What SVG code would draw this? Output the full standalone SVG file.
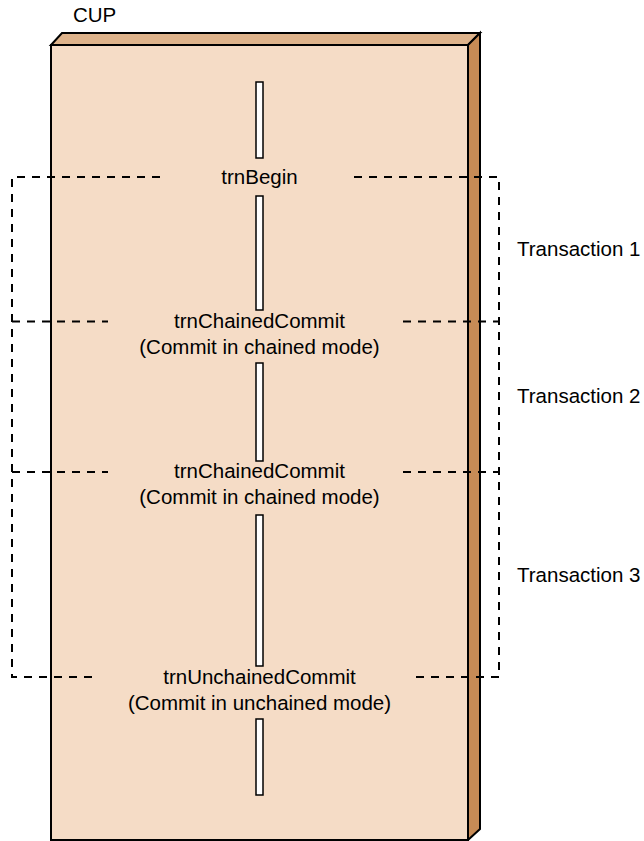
<svg xmlns="http://www.w3.org/2000/svg" width="644" height="841" viewBox="0 0 644 841">
  <style>
    .lbl { font-family: "Liberation Sans", Arial, sans-serif; font-size: 20.5px; fill: #000; }
    .mid { text-anchor: middle; }
    .edge { fill: none; stroke: #000; stroke-width: 2; stroke-dasharray: 8 7; }
    .bar { fill: #fff; stroke: #000; stroke-width: 1.5; }
    .face { stroke: #000; stroke-width: 2; stroke-linejoin: miter; }
  </style>
  <rect width="644" height="841" fill="#fff"/>

  <!-- CUP process block drawn as a 3D slab -->
  <g id="cup">
    <polygon class="face" points="51,45 62,33 480,33 468,45" fill="#DEB38B"/>
    <polygon class="face" points="468,45 480,33 480,829 468,840" fill="#C78B56"/>
    <rect class="face" x="51" y="45" width="417" height="795" fill="#F5DCC6"/>
    <text class="lbl" x="73" y="22">CUP</text>
  </g>

  <!-- processing timeline segments -->
  <g id="timeline">
    <rect class="bar" x="256" y="82" width="7" height="76"/>
    <rect class="bar" x="256" y="196" width="7" height="114"/>
    <rect class="bar" x="256" y="363" width="7" height="98"/>
    <rect class="bar" x="256" y="515" width="7" height="151"/>
    <rect class="bar" x="256" y="719" width="7" height="76"/>
  </g>

  <!-- transaction boundaries -->
  <g id="connectors">
    <path class="edge" d="M160,177 H12 V677 H98"/>
    <path class="edge" d="M354,177 H499 V677 H411"/>
    <path class="edge" d="M12,321.5 H108"/>
    <path class="edge" d="M403,321.5 H499"/>
    <path class="edge" d="M12,472 H108"/>
    <path class="edge" d="M403,472 H499"/>
  </g>

  <g id="trnBegin">
    <text class="lbl mid" x="259.5" y="184">trnBegin</text>
  </g>
  <g id="trnChainedCommit1">
    <text class="lbl mid" x="259.5" y="328">trnChainedCommit</text>
    <text class="lbl mid" x="259.5" y="354">(Commit in chained mode)</text>
  </g>
  <g id="trnChainedCommit2">
    <text class="lbl mid" x="259.5" y="478">trnChainedCommit</text>
    <text class="lbl mid" x="259.5" y="504">(Commit in chained mode)</text>
  </g>
  <g id="trnUnchainedCommit">
    <text class="lbl mid" x="259.5" y="684">trnUnchainedCommit</text>
    <text class="lbl mid" x="259.5" y="710">(Commit in unchained mode)</text>
  </g>

  <g id="transaction1"><text class="lbl" x="517" y="256">Transaction 1</text></g>
  <g id="transaction2"><text class="lbl" x="517" y="403">Transaction 2</text></g>
  <g id="transaction3"><text class="lbl" x="517" y="582">Transaction 3</text></g>
</svg>
